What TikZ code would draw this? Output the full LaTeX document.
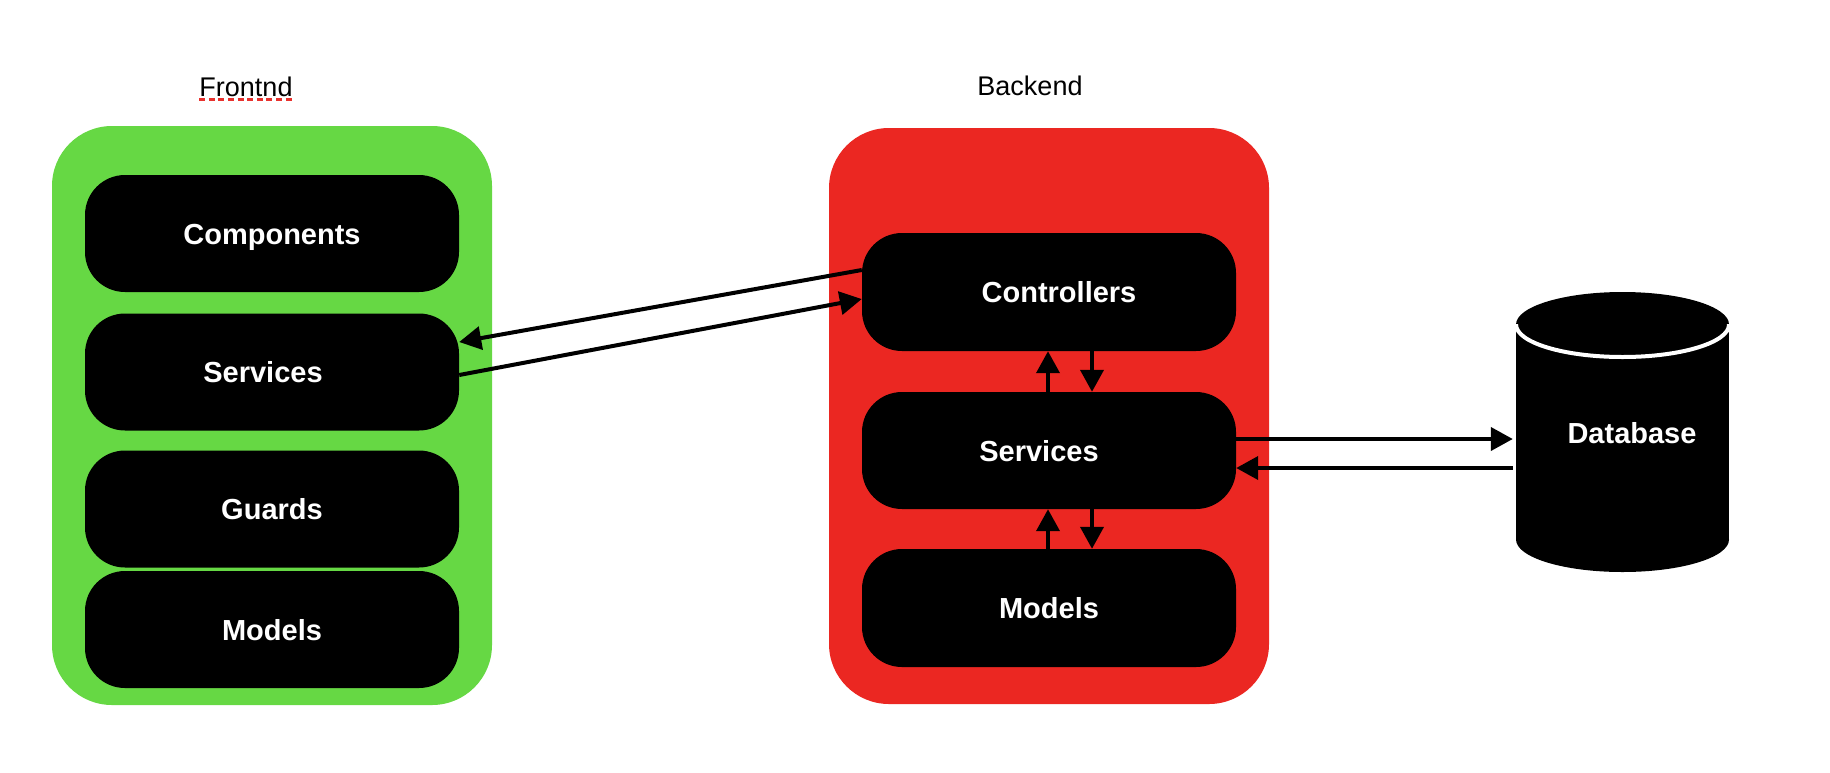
\documentclass[tikz,border=0pt]{standalone}
\usepackage{fontspec}
\setmainfont{Liberation Sans}
\usetikzlibrary{arrows.meta}
\definecolor{fgreen}{HTML}{66D844}
\definecolor{bred}{HTML}{EB2722}
\definecolor{squig}{HTML}{E8322E}
\begin{document}
\begin{tikzpicture}[x=1pt,y=-1pt,
  layer/.style={fill=#1, rounded corners=60pt, inner sep=0pt},
  blk/.style={fill=black, text=white, rounded corners=40pt, minimum width=374pt, minimum height=117pt, inner sep=0pt, font=\fontsize{29}{34}\selectfont\bfseries, text height=21pt, text depth=0pt},
  arr/.style={line width=4pt, -{Triangle[length=22pt,width=23pt]}},
  title/.style={font=\fontsize{27}{32}\selectfont, anchor=base, inner sep=0pt}]
\useasboundingbox (0,0) rectangle (1830,772);
% containers
\node[layer=fgreen, minimum width=440pt, minimum height=579pt] (front) at (272,415.5) {};
\node[layer=bred, minimum width=440pt, minimum height=576pt] (back) at (1049,416) {};
% titles
\node[title] (tfront) at (246,96) {Frontnd};
\draw[squig, line width=2.2pt, dash pattern=on 6pt off 3.6pt] ([yshift=-3.5pt]tfront.base west) -- ([yshift=-3.5pt]tfront.base east);
\node[title] (tback) at (1030,95) {Backend};
% frontend boxes
\node[blk] (fcomp) at (272,233.5) {Components};
\node[blk] (fsrv) at (272,372) {\hspace*{-18pt}Services};
\node[blk] (fguard) at (272,509) {Guards};
\node[blk] (fmod) at (272,629.5) {Models};
% backend boxes
\node[blk, minimum height=118pt] (bcon) at (1049,292) {\hspace*{20pt}Controllers};
\node[blk] (bsrv) at (1049,450.5) {\hspace*{-20pt}Services};
\node[blk, minimum height=118pt] (bmod) at (1049,608) {Models};
% database cylinder
\fill[black] (1516,324.5) rectangle (1729,539.5);
\fill[black] (1622.5,324.5) ellipse (106.5pt and 32.5pt);
\fill[black] (1622.5,539.5) ellipse (106.5pt and 32.5pt);
\begin{scope}
  \clip (1510,324.5) rectangle (1735,370);
  \draw[white, line width=4pt] (1622.5,324.5) ellipse (106.5pt and 32.5pt);
\end{scope}
\node[minimum width=213pt, minimum height=280pt, inner sep=0pt] (db) at (1622.5,432) {};
\node[text=white, font=\fontsize{29}{34}\selectfont\bfseries, text height=21pt, text depth=0pt, inner sep=0pt] (dbl) at (1632,433) {Database};
% arrows between frontend and backend
\draw[arr] ([yshift=22pt]bcon.west) -- ([yshift=30pt]fsrv.east);
\draw[arr] ([yshift=-3pt]fsrv.east) -- ([yshift=-7pt]bcon.west);
% backend internal arrows
\draw[arr] ([xshift=-1pt]bsrv.north) -- ([xshift=-1pt]bcon.south);
\draw[arr] ([xshift=43pt]bcon.south) -- ([xshift=43pt]bsrv.north);
\draw[arr] ([xshift=-1pt]bmod.north) -- ([xshift=-1pt]bsrv.south);
\draw[arr] ([xshift=43pt]bsrv.south) -- ([xshift=43pt]bmod.north);
% services <-> database
\draw[arr] ([yshift=11.5pt]bsrv.east) -- ([yshift=11.5pt,xshift=-3pt]bsrv.east -| db.west);
\draw[arr] ([yshift=-17.5pt,xshift=-3pt]bsrv.east -| db.west) -- ([yshift=-17.5pt]bsrv.east);
\end{tikzpicture}
\end{document}
